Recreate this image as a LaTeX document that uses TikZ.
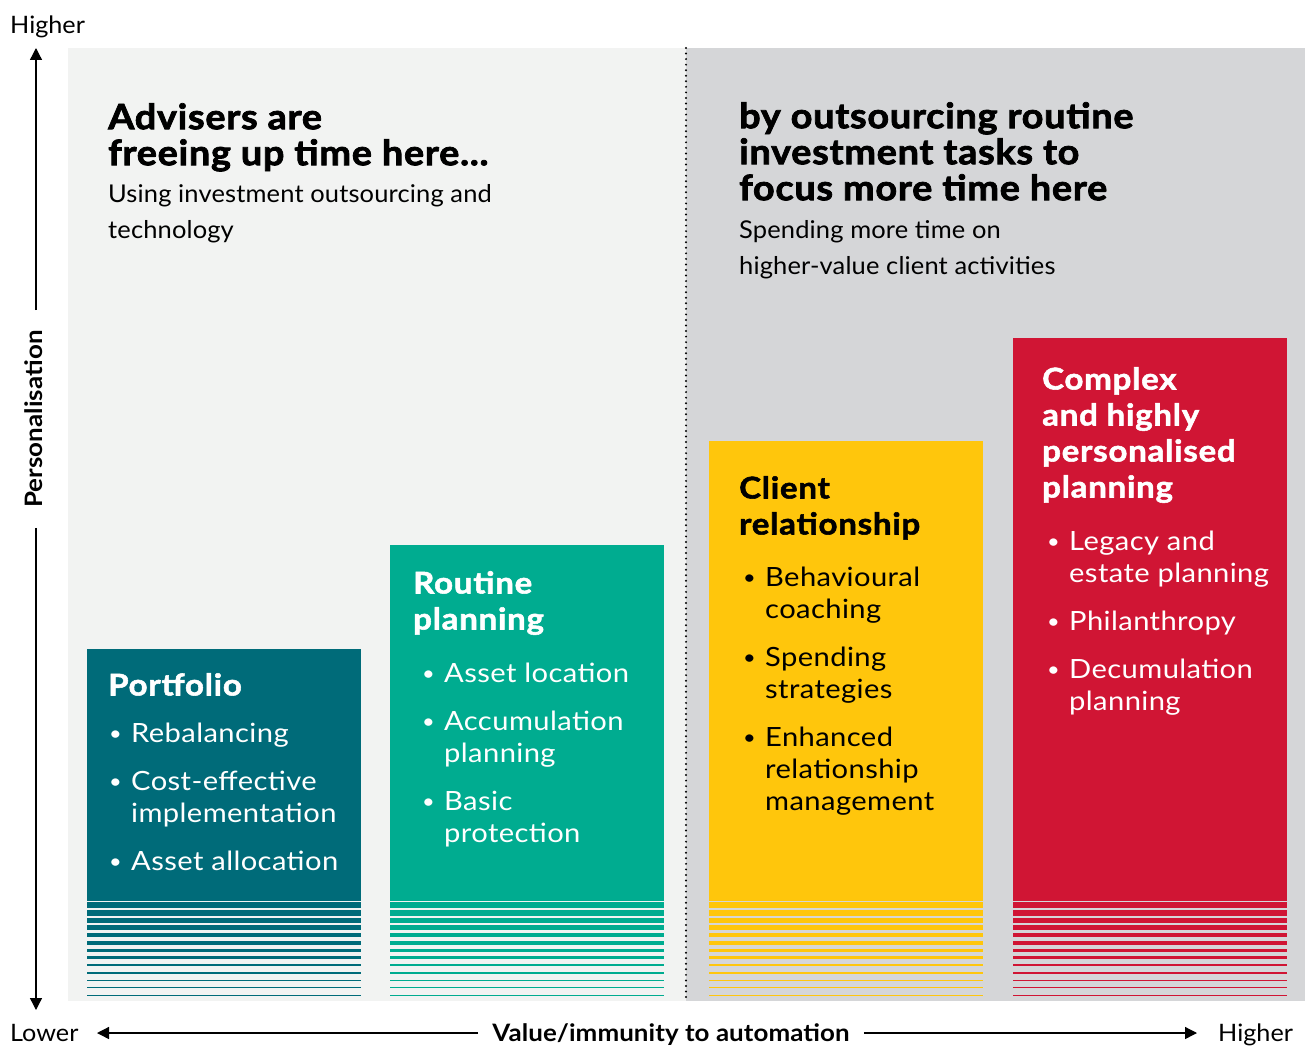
\documentclass[tikz,border=0pt]{standalone}
\usepackage{fontspec}
\setmainfont{Lato}
% widened faces for the different text roles
\newfontfamily\headfont{Lato}[BoldFeatures={FakeStretch=1.08,LetterSpace=2.1,FakeBold=2.2}]
\newfontfamily\barheadfont{Lato}[BoldFeatures={FakeStretch=1.1,LetterSpace=2.6,FakeBold=1.8}]
\newfontfamily\subfont{Lato}[FakeStretch=1.04,LetterSpace=0.6]
\newfontfamily\itemfont{Lato}[FakeStretch=1.1,LetterSpace=1.5]
\newfontfamily\axisfont{Lato}[FakeStretch=1.08,LetterSpace=0.3]
\newfontfamily\endfont{Lato}[FakeStretch=1.05]
\usetikzlibrary{arrows.meta}

\definecolor{panelleft}{RGB}{242,243,242}
\definecolor{panelright}{RGB}{213,214,216}
\definecolor{barteal}{RGB}{0,107,121}
\definecolor{bargreen}{RGB}{0,172,144}
\definecolor{baryellow}{RGB}{255,198,12}
\definecolor{barred}{RGB}{208,21,52}

% bullet and hanging indent for the lists
\newcommand\bulletmark{\makebox[18pt][l]{\hspace*{-4pt}\raisebox{2pt}{\scalebox{0.75}{\textbullet}}}}
\newcommand\bulindent{\hspace*{18pt}}

\tikzset{
  txt/.style={anchor=north west, inner sep=0pt, align=left},
  head/.style={txt, font=\headfont\bfseries\fontsize{35}{36}\selectfont},
  sub/.style={txt, font=\subfont\fontsize{24.5}{36}\selectfont},
  barhead/.style={txt, font=\barheadfont\bfseries\fontsize{30}{36}\selectfont},
  items/.style={txt, font=\itemfont\fontsize{26.5}{32}\selectfont},
  axis/.style={line width=1.3pt, -{Triangle[length=12pt,width=12pt]}},
  axislabel/.style={font=\axisfont\bfseries\fontsize{24}{24}\selectfont, text height=17pt, text depth=5pt},
  endlabel/.style={anchor=base west, inner sep=0pt, font=\endfont\fontsize{24}{24}\selectfont},
}

\begin{document}
\begin{tikzpicture}[x=1pt,y=-1pt]
\useasboundingbox (0,0) rectangle (1308,1046);
\fill[white] (0,0) rectangle (1308,1046);

% the two halves
\fill[panelleft] (68,48) rectangle (686,1001);
\fill[panelright] (686,48) rectangle (1305,1001);
\draw[line width=2.2pt, line cap=round, dash pattern=on 0pt off 5.55pt] (686,48) -- (686,1001);

% bars with fading stripes
\foreach \col/\xa/\xb/\top in {barteal/87/361/649, bargreen/390/664/545,
                               baryellow/709/983/441, barred/1013/1287/338} {
  \fill[\col] (\xa,\top) rectangle (\xb,900.5);
  \foreach \ya/\yb in {902/908, 910/916, 918/923, 925/930, 933/937, 941/945,
                       949/952, 956/959, 964/966, 972/974, 980/981.2,
                       987/988.2, 995/996.2}
    \fill[\col] (\xa,\ya) rectangle (\xb,\yb);
}

% headings
\node[head] (lefthead) at (108,103) {Advisers are\\freeing up time here...};
\node[sub] (leftsub) at (108,184) {Using investment outsourcing and\\technology};
\node[head] (righthead) at (739,102) {by outsourcing routine\\investment tasks to\\focus more time here};
\node[sub] (rightsub) at (739,220) {Spending more time on\\higher-value client activities};

% portfolio
\node[barhead, text=white] (pfhead) at (108,673) {Portfolio};
\node[items, text=white] (pfitems) at (113,723)
  {\bulletmark Rebalancing\\[16pt]\bulletmark Cost-effective\\\bulindent implementation\\[16pt]\bulletmark Asset allocation};

% routine planning
\node[barhead, text=white] (rphead) at (413,571) {Routine\\planning};
\node[items, text=white] (rpitems) at (426,663)
  {\bulletmark Asset location\\[16pt]\bulletmark Accumulation\\\bulindent planning\\[16pt]\bulletmark Basic\\\bulindent protection};

% client relationship
\node[barhead] (crhead) at (739,476) {Client\\relationship};
\node[items] (critems) at (747,567)
  {\bulletmark Behavioural\\\bulindent coaching\\[16pt]\bulletmark Spending\\\bulindent strategies\\[16pt]\bulletmark Enhanced\\\bulindent relationship\\\bulindent management};

% complex planning
\node[barhead, text=white] (cphead) at (1042,367) {Complex\\and highly\\personalised\\planning};
\node[items, text=white] (cpitems) at (1051,531)
  {\bulletmark Legacy and\\\bulindent estate planning\\[16pt]\bulletmark Philanthropy\\[16pt]\bulletmark Decumulation\\\bulindent planning};

% axes
\node[endlabel] (yhigh) at (10,34) {Higher};
\node[endlabel] (xlow) at (10,1041) {Lower};
\node[endlabel] (xhigh) at (1218,1041) {Higher};
\coordinate (ytop) at (36,48);
\coordinate (ybot) at (36,1010);
\coordinate (xleft) at (97,1033);
\coordinate (xright) at (1197,1033);
\node[axislabel, rotate=90, inner xsep=20pt, inner ysep=0pt] (yaxis) at (36,419) {Personalisation};
\node[axislabel, inner xsep=14pt, inner ysep=0pt] (xaxis) at (671,1035) {Value/immunity to automation};
\draw[axis] (yaxis) -- (ytop);
\draw[axis] (yaxis) -- (ybot);
\draw[axis] (xaxis.west |- xleft) -- (xleft);
\draw[axis] (xaxis.east |- xright) -- (xright);
\end{tikzpicture}
\end{document}
